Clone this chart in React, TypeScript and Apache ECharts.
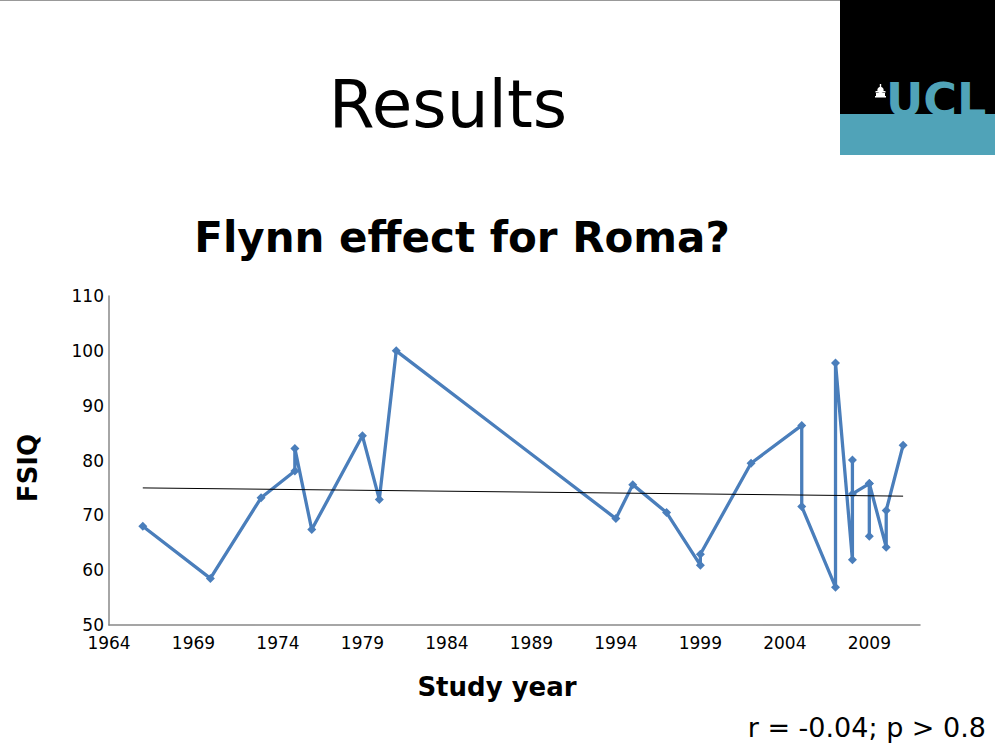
import React, { useEffect, useRef } from "react";
import * as echarts from "echarts";

const years = [1966, 1970, 1973, 1975, 1975, 1976, 1979, 1980, 1981, 1994, 1995, 1997, 1999, 1999, 2002, 2005, 2005, 2007, 2007, 2008, 2008, 2008, 2009, 2009, 2009, 2010, 2010, 2011];
const fsiq = [68, 58.5, 73.2, 78.1, 82.2, 67.4, 84.5, 72.9, 100, 69.4, 75.6, 70.5, 60.9, 62.9, 79.5, 86.4, 71.6, 56.9, 97.8, 61.9, 80.1, 73.9, 75.8, 66.2, 75.8, 64.2, 70.9, 82.8];
const trendYears = [1966, 2011];
const trendValues = [75.0, 73.5];

const mainTitle = "Results";
const chartTitle = "Flynn effect for Roma?";
const yAxisTitle = "FSIQ";
const xAxisTitle = "Study year";
const statsNote = "r = -0.04; p > 0.8";

const FONT = "'DejaVu Sans', sans-serif";
const BLUE = "#4a7ebb";
const TEAL = "#50a3b8";

export default function App() {
  const ref = useRef<HTMLDivElement>(null);
  useEffect(() => {
    if (!ref.current) return;
    const chart = echarts.init(ref.current, null, { renderer: "svg" });
    chart.setOption({
      animation: false,
      backgroundColor: "#ffffff",
      grid: { left: 109, top: 296, right: 75, bottom: 122, containLabel: false },
      xAxis: {
        type: "value",
        min: 1964,
        max: 2012,
        interval: 5,
        axisLine: { show: true, lineStyle: { color: "#888888", width: 1.5 } },
        axisTick: { show: false },
        splitLine: { show: false },
        axisLabel: {
          showMaxLabel: false,
          color: "#000",
          fontFamily: FONT,
          fontSize: 17,
          margin: 9,
          formatter: (v: number) => String(v),
        },
      },
      yAxis: {
        type: "value",
        min: 50,
        max: 110,
        interval: 10,
        axisLine: { show: true, lineStyle: { color: "#888888", width: 1.5 } },
        axisTick: { show: false },
        splitLine: { show: false },
        axisLabel: { color: "#000", fontFamily: FONT, fontSize: 17, margin: 5 },
      },
      series: [
        {
          type: "line",
          data: years.map((y, i) => [y, fsiq[i]]),
          symbol: "diamond",
          symbolSize: 9,
          lineStyle: { color: BLUE, width: 3.3 },
          itemStyle: { color: BLUE },
          z: 2,
        },
        {
          type: "line",
          data: trendYears.map((y, i) => [y, trendValues[i]]),
          symbol: "none",
          lineStyle: { color: "#000", width: 1 },
          z: 3,
        },
      ],
      graphic: [
        { type: "line", shape: { x1: 0, y1: 0.5, x2: 840, y2: 0.5 }, style: { stroke: "#999", lineWidth: 1 } },
        { type: "rect", shape: { x: 840, y: 0, width: 155, height: 114 }, style: { fill: "#000" } },
        { type: "rect", shape: { x: 840, y: 114, width: 155, height: 41 }, style: { fill: TEAL } },
        {
          type: "text",
          x: 886,
          y: 123,
          style: { text: "UCL", fill: TEAL, font: `bold 46px ${FONT}`, textAlign: "left", textVerticalAlign: "bottom" },
        },
        { type: "circle", shape: { cx: 880.5, cy: 90, r: 3.2 }, style: { fill: "#fff" } },
        { type: "rect", shape: { x: 879.8, y: 84, width: 1.4, height: 3 }, style: { fill: "#fff" } },
        { type: "rect", shape: { x: 875.5, y: 91, width: 10, height: 1.5 }, style: { fill: "#fff" } },
        { type: "rect", shape: { x: 876, y: 93, width: 9, height: 3 }, style: { fill: "#fff" } },
        { type: "rect", shape: { x: 875, y: 96, width: 11, height: 1.5 }, style: { fill: "#fff" } },
        {
          type: "text",
          x: 448,
          y: 104,
          style: { text: mainTitle, fill: "#000", font: `66px ${FONT}`, textAlign: "center", textVerticalAlign: "middle" },
        },
        {
          type: "text",
          x: 462,
          y: 237,
          style: { text: chartTitle, fill: "#000", font: `bold 42px ${FONT}`, textAlign: "center", textVerticalAlign: "middle" },
        },
        {
          type: "text",
          x: 28,
          y: 468,
          rotation: Math.PI / 2,
          style: { text: yAxisTitle, fill: "#000", font: `bold 26px ${FONT}`, textAlign: "center", textVerticalAlign: "middle" },
        },
        {
          type: "text",
          x: 497,
          y: 687,
          style: { text: xAxisTitle, fill: "#000", font: `bold 26px ${FONT}`, textAlign: "center", textVerticalAlign: "middle" },
        },
        {
          type: "text",
          x: 986,
          y: 727,
          style: { text: statsNote, fill: "#000", font: `27px ${FONT}`, textAlign: "right", textVerticalAlign: "middle" },
        },
      ],
    });
    return () => chart.dispose();
  }, []);
  return <div ref={ref} style={{ position: "fixed", left: 0, top: 0, width: 995, height: 747 }} />;
}
